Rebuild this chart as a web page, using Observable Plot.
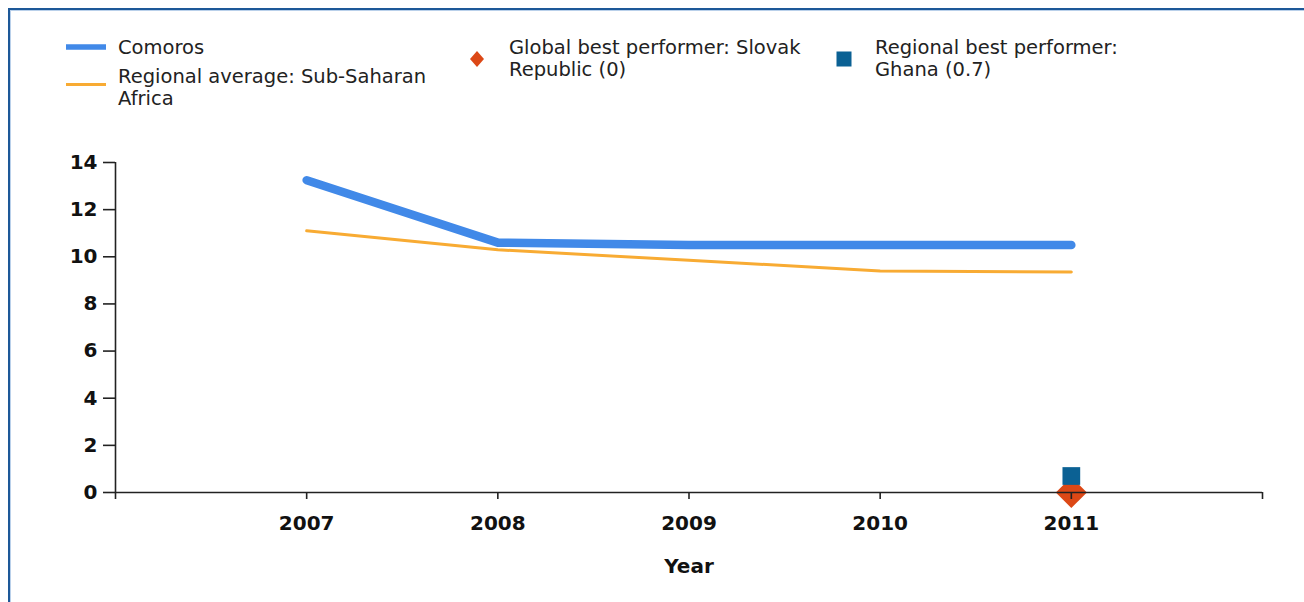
<!DOCTYPE html>
<html>
<head>
<meta charset="utf-8">
<script src="https://cdn.jsdelivr.net/npm/d3@7"></script>
<script src="https://cdn.jsdelivr.net/npm/@observablehq/plot@0.6"></script>
<style>
  html, body { margin: 0; padding: 0; background: #fff; }
  #wrap { position: relative; width: 1304px; height: 602px; overflow: hidden; background: #fff; }
  #frame { position: absolute; left: 8px; top: 8px; width: 1400px; height: 700px;
           border-left: 2px solid #1d5898; border-top: 2px solid #1d5898; box-sizing: border-box; pointer-events: none; }
  #frame2 { position: absolute; left: 10px; top: 10px; width: 1400px; height: 700px;
           border-left: 1px solid #b9d0ea; border-top: 1px solid #b9d0ea; box-sizing: border-box; pointer-events: none; }
  #legend { position: relative; width: 1304px; height: 130px; font-family: "DejaVu Sans", sans-serif;
            font-size: 19.5px; color: #222; }
  .item { position: absolute; line-height: 22px; white-space: nowrap; }
  .sw { position: absolute; }
  #chart svg { display: block; }
</style>
</head>
<body>
<div id="wrap">
  <div id="legend"></div>
  <div id="chart"></div>
  <div id="frame"></div>
  <div id="frame2"></div>
</div>
<script>
// ---- data ----
const years = [2007, 2008, 2009, 2010, 2011];
const comoros = [13.25, 10.6, 10.5, 10.5, 10.5];
const regionalAvg = [11.1, 10.3, 9.85, 9.4, 9.35];
const globalBestYear = [2011];
const globalBestValue = [0];
const regionalBestYear = [2011];
const regionalBestValue = [0.7];
const xTicks = [2006, 2007, 2008, 2009, 2010, 2011, 2012];
const yTicks = [0, 2, 4, 6, 8, 10, 12, 14];
const seriesNames = ["Comoros", "Regional average: Sub-Saharan\nAfrica",
  "Global best performer: Slovak\nRepublic (0)", "Regional best performer:\nGhana (0.7)"];

const blue = "#4189e8", orange = "#f8ab33", red = "#dc4816", navy = "#0b6194";

// ---- legend (HTML above the svg) ----
const legend = document.getElementById("legend");
function addText(x, top, txt) {
  const d = document.createElement("div");
  d.className = "item";
  d.style.left = x + "px";
  d.style.top = top + "px";
  d.innerHTML = txt.split("\n").join("<br>");
  legend.appendChild(d);
}
function addSwatch(x, y, w, h, inner) {
  const s = document.createElementNS("http://www.w3.org/2000/svg", "svg");
  s.setAttribute("width", w); s.setAttribute("height", h);
  s.setAttribute("class", "sw");
  s.style.left = x + "px"; s.style.top = y + "px";
  s.innerHTML = inner;
  legend.appendChild(s);
}
addSwatch(63, 40, 46, 14, `<line x1="3" x2="43" y1="7" y2="7" stroke="${blue}" stroke-width="5.5" stroke-linecap="butt"/>`);
addText(118, 36.5, seriesNames[0]);
addSwatch(63, 78, 46, 14, `<line x1="3" x2="43" y1="6.5" y2="6.5" stroke="${orange}" stroke-width="3"/>`);
addText(118, 65.5, seriesNames[1]);
addSwatch(468, 50, 18, 18, `<path d="M9,1 L16,9 L9,17 L2,9 Z" fill="${red}"/>`);
addText(509, 36.5, seriesNames[2]);
addSwatch(836, 51, 16, 16, `<rect x="0.5" y="0.5" width="15" height="15" fill="${navy}"/>`);
addText(875, 36.5, seriesNames[3]);

// ---- chart ----
const lineData = years.map((y, i) => ({year: y, comoros: comoros[i], regional: regionalAvg[i]}));
const gb = globalBestYear.map((y, i) => ({year: y, value: globalBestValue[i]}));
const rb = regionalBestYear.map((y, i) => ({year: y, value: regionalBestValue[i]}));

const chart = Plot.plot({
  width: 1304,
  height: 472,
  marginTop: 32,
  marginBottom: 110,
  marginLeft: 115,
  marginRight: 42,
  style: {fontFamily: "DejaVu Sans, sans-serif", background: "transparent", overflow: "visible"},
  x: {domain: [2006, 2012], axis: null},
  y: {domain: [0, 14], axis: null},
  marks: [
    Plot.line(lineData, {x: "year", y: "regional", stroke: orange, strokeWidth: 3, strokeLinejoin: "round", strokeLinecap: "round"}),
    Plot.line(lineData, {x: "year", y: "comoros", stroke: blue, strokeWidth: 8.5, strokeLinejoin: "round", strokeLinecap: "round"}),
    Plot.dot(gb, {x: "year", y: "value", symbol: "diamond2", r: 14, fill: red, stroke: "none"}),
    Plot.dot(rb, {x: "year", y: "value", symbol: "square", r: 10, fill: navy, stroke: "none"}),
    Plot.ruleX([2006], {y1: 0, y2: 14, stroke: "#222", strokeWidth: 1.6}),
    Plot.ruleY([0], {x1: 2006, x2: 2012, stroke: "#222", strokeWidth: 1.6}),
    Plot.axisY({ticks: yTicks, tickSize: 12, tickPadding: 6, tickFormat: d => String(d),
      fontSize: 20, fontWeight: "bold", fill: "#111", stroke: "#222", strokeWidth: 1.6, label: null}),
    Plot.axisX({ticks: xTicks, tickSize: 7, tickPadding: 16,
      tickFormat: d => (d === 2006 || d === 2012) ? "" : String(d),
      fontSize: 20, fontWeight: "bold", fill: "#111", stroke: "#222", strokeWidth: 1.6, label: null}),
    Plot.text(["Year"], {frameAnchor: "bottom", dy: 74, text: d => d, fontSize: 20, fontWeight: "bold", fill: "#111", lineAnchor: "middle"})
  ]
});
document.getElementById("chart").appendChild(chart);
</script>
</body>
</html>
